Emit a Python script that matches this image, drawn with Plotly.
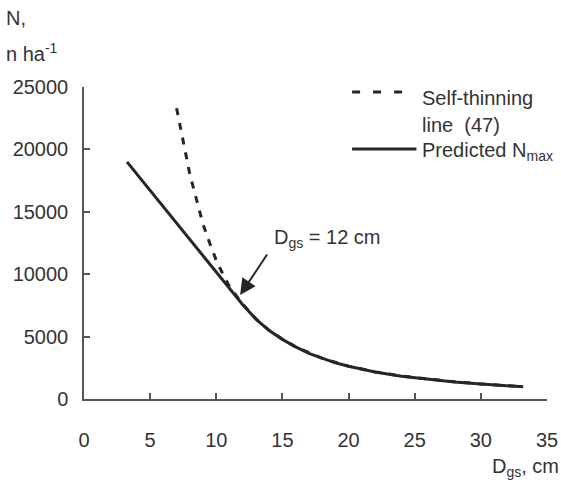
import plotly.graph_objects as go

# Predicted maximum stand density N_max (n/ha) against quadratic mean diameter Dgs (cm)
d_pred = [3.25, 5, 7, 9, 11, 12, 13, 14, 15, 16, 17, 18, 19, 20, 22, 24, 26, 28, 30, 32, 33.2]
n_pred = [19000, 16700, 14050, 11400, 8800, 7550, 6400, 5480, 4780, 4170, 3660,
          3250, 2900, 2620, 2160, 1830, 1580, 1370, 1200, 1060, 980]

# Self-thinning line (47)
d_self = [7.0, 7.5, 8, 8.5, 9, 9.5, 10, 10.5, 11, 12, 13, 14, 15, 16, 18, 20, 22, 24, 26, 28, 30, 32, 33.2]
n_self = [23300, 20500, 18000, 16000, 14000, 12500, 11100, 10000, 9000, 7600, 6420, 5500,
          4790, 4180, 3260, 2630, 2170, 1840, 1590, 1380, 1210, 1070, 990]

x_ticks = [0, 5, 10, 15, 20, 25, 30, 35]
y_ticks = [0, 5000, 10000, 15000, 20000, 25000]
y_tick_labels = ["0", "5000", "10000", "15000", "20000", "25000"]

FONT = "Liberation Sans, Arial, sans-serif"
TXT = "#333333"
LINE = "#262626"

fig = go.Figure()
fig.add_trace(go.Scatter(x=d_self, y=n_self, mode="lines",
                         line=dict(color=LINE, width=3, dash="7px,8px"),
                         name="Self-thinning line (47)", showlegend=False))
fig.add_trace(go.Scatter(x=d_pred, y=n_pred, mode="lines",
                         line=dict(color=LINE, width=3),
                         name="Predicted Nmax", showlegend=False))

axis_common = dict(showgrid=False, zeroline=False, showline=True, linecolor="#555555",
                   linewidth=1.5, ticks="inside", tickcolor="#555555", tickwidth=1.5,
                   ticklen=6, automargin=False,
                   tickfont=dict(family=FONT, size=20, color=TXT))
fig.update_xaxes(range=[0, 35], tickvals=x_ticks, ticklabelstandoff=22, **axis_common)
fig.update_yaxes(range=[0, 25000], tickvals=y_ticks, ticktext=y_tick_labels,
                 ticklabelstandoff=10, **axis_common)

# legend drawn as sample lines + labels
fig.add_shape(type="line", xref="paper", yref="paper", x0=0.579, x1=0.70, y0=0.984, y1=0.984,
              line=dict(color=LINE, width=3, dash="8px,13px"))
fig.add_shape(type="line", xref="paper", yref="paper", x0=0.579, x1=0.718, y0=0.801, y1=0.801,
              line=dict(color=LINE, width=3))

ann = [
    dict(text="Self-thinning", x=0.726, y=0.965),
    dict(text="line  (47)", x=0.726, y=0.878),
    dict(text="Predicted N<sub>max</sub>", x=0.726, y=0.792),
    dict(text="N,", x=-0.172, y=1.221),
    dict(text="n ha<sup>-1</sup>", x=-0.172, y=1.112),
    dict(text="D<sub>gs</sub>, cm", x=0.877, y=-0.218),
]
for a in ann:
    fig.add_annotation(xref="paper", yref="paper", x=a["x"], y=a["y"], text=a["text"],
                       showarrow=False, xanchor="left", yanchor="middle",
                       font=dict(family=FONT, size=20, color=TXT))

fig.add_annotation(x=14.2, y=12900, text="D<sub>gs</sub> = 12 cm", showarrow=False,
                   xanchor="left", yanchor="middle", font=dict(family=FONT, size=20, color=TXT))
fig.add_annotation(x=11.8, y=8330, ax=28, ay=-42, text="", showarrow=True,
                   arrowhead=2, arrowsize=1.6, arrowwidth=2, arrowcolor=LINE)

fig.update_layout(width=561, height=483, margin=dict(l=84, r=14, t=87, b=84),
                  plot_bgcolor="white", paper_bgcolor="white", showlegend=False)

fig.write_html("out.html")
